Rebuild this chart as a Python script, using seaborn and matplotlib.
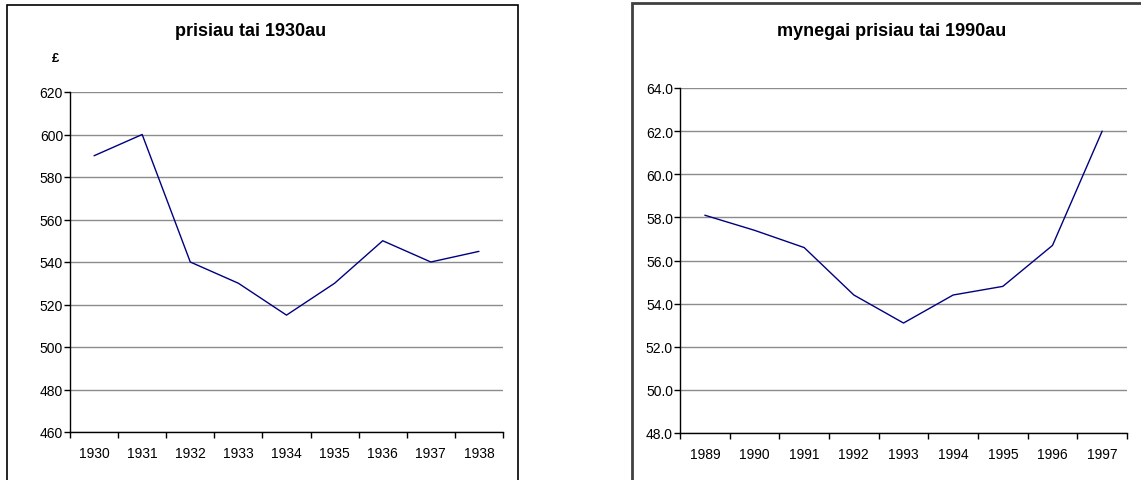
import matplotlib
matplotlib.use("Agg")
import matplotlib.pyplot as plt
import matplotlib.patches as mpatches
from matplotlib.ticker import MultipleLocator, FixedLocator, NullFormatter
import seaborn as sns
import pandas as pd

# house prices in the 1930s (pounds)
years_30s = ['1930', '1931', '1932', '1933', '1934', '1935', '1936', '1937', '1938']
prices_30s = [590, 600, 540, 530, 515, 530, 550, 540, 545]

# house price index in the 1990s
years_90s = ['1989', '1990', '1991', '1992', '1993', '1994', '1995', '1996', '1997']
index_90s = [58.1, 57.4, 56.6, 54.4, 53.1, 54.4, 54.8, 56.7, 62.0]

sns.set_style("white")
plt.rcParams['font.family'] = ['Liberation Sans', 'DejaVu Sans']
plt.rcParams['text.color'] = 'black'

W, H = 1141, 481
fig = plt.figure(figsize=(W / 100, H / 100), dpi=100)


def px_axes(x0, y0, x1, y1):
    return fig.add_axes([x0 / W, 1 - y1 / H, (x1 - x0) / W, (y1 - y0) / H])


def style_axes(ax, labels, ylim, step, fmt):
    n = len(labels)
    ax.set_xlim(-0.5, n - 0.5)
    ax.set_ylim(*ylim)
    ax.yaxis.set_major_locator(MultipleLocator(step))
    ax.yaxis.set_major_formatter(fmt)
    ax.set_xticks(range(n))
    ax.set_xticklabels(labels)
    ax.xaxis.set_minor_locator(FixedLocator([i - 0.5 for i in range(n + 1)]))
    ax.xaxis.set_minor_formatter(NullFormatter())
    ax.tick_params(axis='x', which='major', length=0, pad=10, labelsize=10,
                   colors='black', labelcolor='black')
    ax.tick_params(axis='x', which='minor', length=4, width=1, direction='out',
                   color='black', bottom=True)
    ax.tick_params(axis='y', length=4, width=1, direction='out', pad=1,
                   labelsize=10, left=True, colors='black', labelcolor='black')
    ax.grid(axis='y', color='#8c8c8c', linewidth=1)
    ax.set_axisbelow(True)
    for side in ['top', 'right']:
        ax.spines[side].set_visible(False)
    for side in ['left', 'bottom']:
        ax.spines[side].set_color('black')
        ax.spines[side].set_linewidth(1)
    ax.set_xlabel('')
    ax.set_ylabel('')


df30 = pd.DataFrame({'year': years_30s, 'price': prices_30s})
df90 = pd.DataFrame({'year': years_90s, 'index': index_90s})

ax1 = px_axes(70, 93, 503, 433)
sns.lineplot(data=df30, x='year', y='price', ax=ax1, color='#000080', linewidth=1, sort=False)
style_axes(ax1, years_30s, (460, 620), 20, '{x:.0f}')

ax2 = px_axes(680, 89, 1127, 434)
sns.lineplot(data=df90, x='year', y='index', ax=ax2, color='#000080', linewidth=1, sort=False)
style_axes(ax2, years_90s, (48, 64), 2, '{x:.1f}')

fig.text(251 / W, 1 - 32 / H, 'prisiau tai 1930au', ha='center', va='center',
         fontsize=13, fontweight='bold', color='black')
fig.text(892 / W, 1 - 32 / H, 'mynegai prisiau tai 1990au', ha='center', va='center',
         fontsize=13, fontweight='bold', color='black')
fig.text(55 / W, 1 - 59 / H, '£', ha='center', va='center', fontsize=9.5,
         fontweight='bold', color='black')

# chart frames (cut off by the figure edge)
fig.patches.append(mpatches.Rectangle((7 / W, -0.2), (518 - 7) / W, 1.2 - 6 / H,
                                      transform=fig.transFigure, fill=False,
                                      edgecolor='black', linewidth=1.2))
fig.patches.append(mpatches.Rectangle((632 / W, -0.2), 0.5, 1.2 - 4 / H,
                                      transform=fig.transFigure, fill=False,
                                      edgecolor='#404040', linewidth=2))

fig.savefig('out.png', dpi=100)
